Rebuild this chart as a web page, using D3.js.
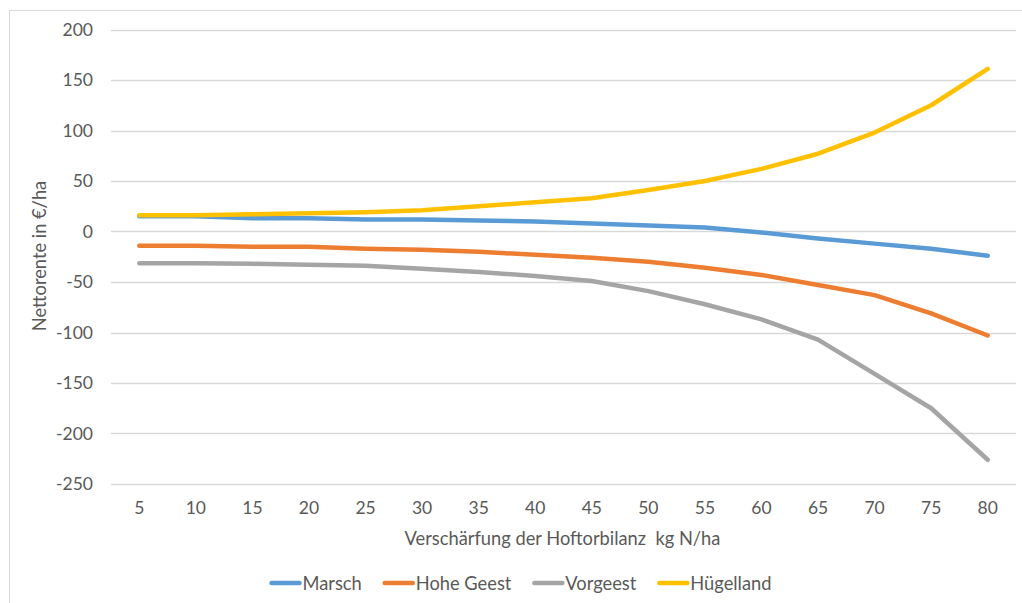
<!DOCTYPE html>
<html><head><meta charset="utf-8">
<script src="https://cdn.jsdelivr.net/npm/d3@7"></script>
<style>
body{margin:0;background:#fff;}
svg{display:block;font-family:Lato,"Open Sans",sans-serif;}
</style></head>
<body><svg id="c" width="1022" height="603"></svg>
<script>
const categories = [5,10,15,20,25,30,35,40,45,50,55,60,65,70,75,80];
const marsch     = [15,15,13,13,12,12,11,10,8,6,4,-1,-7,-12,-17,-24];
const hoheGeest  = [-14,-14,-15,-15,-17,-18,-20,-23,-26,-30,-36,-43,-53,-63,-81,-103];
const vorgeest   = [-31.5,-31.5,-32,-33,-34,-37,-40,-44,-49,-59,-72,-87,-107,-141,-175,-226];
const huegelland = [16,16,17,18,19,21,25,29,33,41,50,62,77,98,125,161];
const seriesNames = ["Marsch","Hohe Geest","Vorgeest","Hügelland"];
const seriesColors = ["#5B9BD5","#ED7D31","#A5A5A5","#FFC000"];
const yTicks = [200,150,100,50,0,-50,-100,-150,-200,-250];
const xTitle = "Verschärfung der Hoftorbilanz\u00a0 kg N/ha";
const yTitle = "Nettorente in €/ha";

const seriesData = [marsch, hoheGeest, vorgeest, huegelland];
const svg = d3.select("#c");
const textCol = "#595959";

// outer chart border
svg.append("rect").attr("x",9.5).attr("y",10.5).attr("width",1040).attr("height",640)
  .attr("fill","none").attr("stroke","#D9D9D9").attr("stroke-width",1);

const x = d3.scaleBand().domain(categories).range([111,1016]);
const y = d3.scaleLinear().domain([-250,200]).range([484,29.5]);

// gridlines
svg.append("g").selectAll("line").data(yTicks).join("line")
  .attr("x1",111).attr("x2",1016)
  .attr("y1",d=>Math.round(y(d))+0.5).attr("y2",d=>Math.round(y(d))+0.5)
  .attr("stroke","#D9D9D9").attr("stroke-width",1.3);

// y axis
const yAxis = svg.append("g").attr("transform","translate(111,0)")
  .call(d3.axisLeft(y).tickValues(yTicks).tickSize(0).tickPadding(18).tickFormat(d=>String(d)));
yAxis.select(".domain").remove();
yAxis.selectAll("text").attr("fill",textCol).style("font-size","17.5px").style("font-family","Lato");

// x axis
const xAxis = svg.append("g").attr("transform","translate(0,484)")
  .call(d3.axisBottom(x).tickSize(0).tickPadding(18));
xAxis.select(".domain").remove();
xAxis.selectAll("text").attr("fill",textCol).style("font-size","17.5px").style("font-family","Lato");

// lines
const line = d3.line().x((d,i)=>x(categories[i])+x.bandwidth()/2).y(d=>y(d));
svg.append("g").selectAll("path").data(seriesData).join("path")
  .attr("d",line).attr("fill","none")
  .attr("stroke",(d,i)=>seriesColors[i]).attr("stroke-width",4.5)
  .attr("stroke-linecap","round").attr("stroke-linejoin","round");

// axis titles
svg.append("text").attr("x",562.5).attr("y",545).attr("text-anchor","middle")
  .attr("fill",textCol).style("font-size","18.3px").text(xTitle);
svg.append("text").attr("transform","translate(46,256) rotate(-90)").attr("text-anchor","middle")
  .attr("fill",textCol).style("font-size","18.3px").text(yTitle);

// legend
const lg = svg.append("g");
const items = seriesNames.map((n,i)=>({n,c:seriesColors[i]}));
let cx = 0;
items.forEach(it=>{
  const g = lg.append("g").attr("transform",`translate(${cx},0)`);
  g.append("line").attr("x1",1).attr("x2",29).attr("y1",0).attr("y2",0)
    .attr("stroke",it.c).attr("stroke-width",4.5).attr("stroke-linecap","round");
  const t = g.append("text").attr("x",32).attr("y",6.5).attr("fill",textCol)
    .style("font-size","18.3px").text(it.n);
  const w = t.node().getComputedTextLength();
  cx += 32 + w + 22;
});
const total = cx - 22;
lg.attr("transform",`translate(${521 - total/2},583)`);
</script></body></html>
